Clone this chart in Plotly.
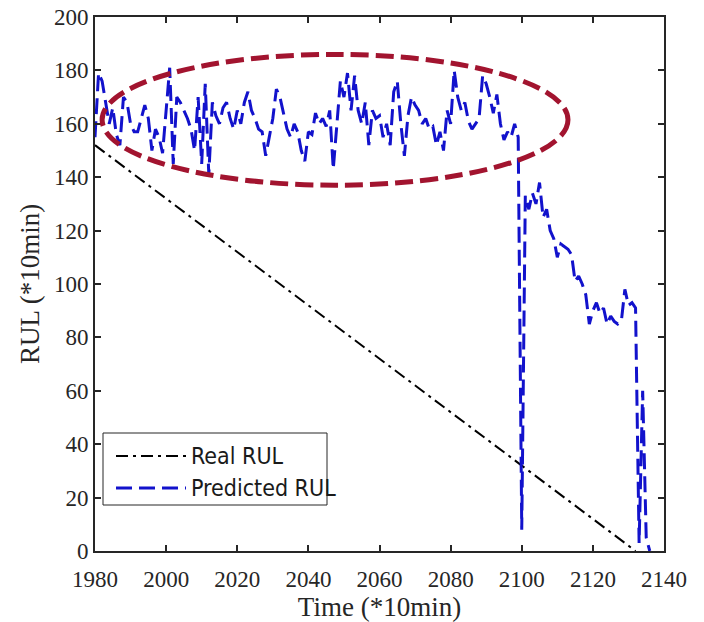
import plotly.graph_objects as go

# ---- data ----
time_start = 1980
predicted_rul = [
    155, 179, 176, 168, 160, 166, 156, 152, 170, 168,   # 1980-1989
    160, 157, 157, 162, 167, 162, 150, 158, 155, 149,   # 1990-1999
    166, 181, 145, 170, 168, 165, 162, 158, 150, 170,   # 2000-2009
    145, 175, 141, 168, 163, 160, 166, 168, 162, 158,   # 2010-2019
    165, 160, 168, 172, 165, 162, 158, 157, 148, 155,   # 2020-2029
    162, 173, 170, 164, 158, 155, 160, 157, 150, 146,   # 2030-2039
    157, 156, 164, 160, 162, 159, 165, 143, 160, 176,   # 2040-2049
    170, 179, 165, 178, 165, 160, 168, 152, 165, 162,   # 2050-2059
    163, 155, 160, 152, 172, 176, 160, 148, 163, 170,   # 2060-2069
    167, 165, 160, 162, 158, 159, 152, 157, 150, 165,   # 2070-2079
    160, 180, 170, 165, 168, 161, 158, 160, 162, 178,   # 2080-2089
    175, 170, 164, 171, 160, 154, 157, 155, 160, 155,   # 2090-2099
    8, 133, 128, 134, 130, 138, 125, 128, 120, 117,     # 2100-2109
    110, 115, 114, 113, 111, 101, 103, 100, 96, 85,     # 2110-2119
    90, 93, 89, 91, 85, 88, 86, 85, 86, 98,             # 2120-2129
    92, 93, 91, 3, 60, 5, 0,                            # 2130-2136
]
time_pred = list(range(time_start, time_start + len(predicted_rul)))

real_time = [1980, 2132]
real_rul = [152, 0]

# ellipse highlighting the early prediction region (data units)
ellipse_x = [1982, 2113]
ellipse_y = [137, 186]

legend_labels = ["Real RUL", "Predicted RUL"]
x_title = "Time (*10min)"
y_title = "RUL (*10min)"

# ---- layout geometry (screen pixels of the 704x622 window) ----
OFF = 8                       # default page body margin
W, H = 704 - 2 * OFF, 622 - OFF
PL, PR, PT, PB = 95, 664, 17, 551      # plot box on screen
L, T = PL - OFF, PT - OFF
PW, PH = PR - PL, PB - PT
R, B = W - L - PW, H - T - PH


def px(x):
    return (x - PL) / PW


def py(y):
    return (PB - y) / PH


AX = "#262626"
BLUE = "#1212CC"
fig = go.Figure()

fig.add_trace(go.Scatter(
    x=real_time, y=real_rul, mode="lines", name=legend_labels[0],
    line=dict(color="black", width=2, dash="12px,5px,3px,5px"),
    showlegend=False,
))
fig.add_trace(go.Scatter(
    x=time_pred, y=predicted_rul, mode="lines", name=legend_labels[1],
    line=dict(color=BLUE, width=3, dash="16px,7px"),
    showlegend=False,
))

shapes = [
    dict(type="circle", xref="x", yref="y",
         x0=ellipse_x[0], x1=ellipse_x[1], y0=ellipse_y[0], y1=ellipse_y[1],
         line=dict(color="#A2142F", width=5, dash="18px,7px")),
    # legend box
    dict(type="rect", xref="paper", yref="paper",
         x0=px(103), x1=px(327), y0=py(505), y1=py(433),
         line=dict(color=AX, width=1), fillcolor="white", layer="above"),
    dict(type="line", xref="paper", yref="paper",
         x0=px(116), x1=px(186), y0=py(456), y1=py(456),
         line=dict(color="black", width=2, dash="12px,5px,3px,5px"), layer="above"),
    dict(type="line", xref="paper", yref="paper",
         x0=px(116), x1=px(186), y0=py(488), y1=py(488),
         line=dict(color=BLUE, width=3, dash="16px,7px"), layer="above"),
]

legend_font = dict(family="DejaVu Sans Condensed, Liberation Sans, sans-serif",
                   size=23, color="#1a1a1a")
annotations = [
    dict(xref="paper", yref="paper", x=px(189), y=py(456), text=legend_labels[0],
         showarrow=False, xanchor="left", yanchor="middle", font=legend_font),
    dict(xref="paper", yref="paper", x=px(189), y=py(488), text=legend_labels[1],
         showarrow=False, xanchor="left", yanchor="middle", font=legend_font),
]

serif = "Liberation Serif, Times New Roman, serif"
axis_common = dict(
    showline=True, linecolor=AX, linewidth=2, mirror="ticks",
    ticks="inside", ticklen=6, tickwidth=1.5, tickcolor=AX,
    showgrid=False, zeroline=False, ticklabeloverflow="allow",
    tickfont=dict(family=serif, size=23, color=AX),
)

fig.update_layout(
    width=W, height=H,
    margin=dict(l=L, r=R, t=T, b=B, pad=0, autoexpand=False),
    paper_bgcolor="white", plot_bgcolor="white",
    shapes=shapes, annotations=annotations,
    xaxis=dict(range=[1980, 2140], dtick=20, tick0=1980, ticklabelstandoff=6,
               title=dict(text=x_title, font=dict(family=serif, size=27, color=AX), standoff=8),
               **axis_common),
    yaxis=dict(range=[0, 200], dtick=20, tick0=0,
               title=dict(text=y_title, font=dict(family=serif, size=27, color=AX), standoff=6),
               **axis_common),
)

fig.write_html("out.html")
